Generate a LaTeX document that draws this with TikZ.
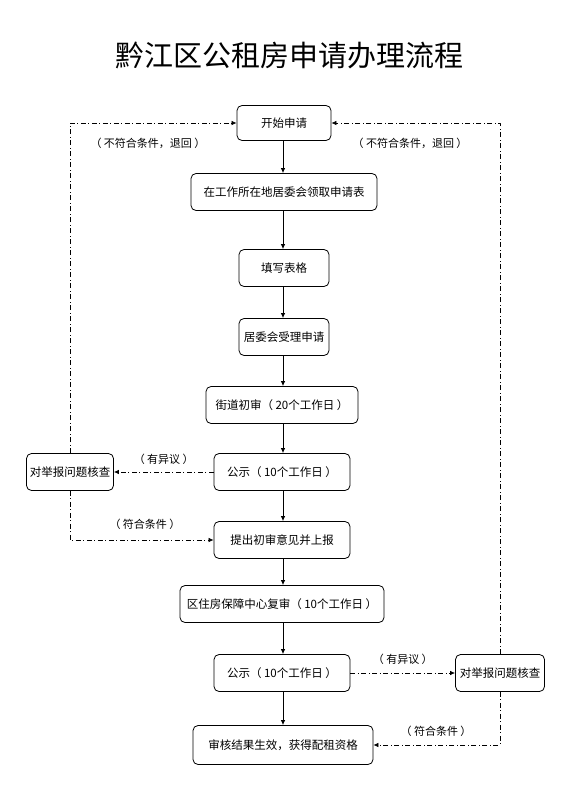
\documentclass[tikz,border=0pt]{standalone}
\usepackage{fontspec}
\newfontfamily\cjk{Noto Sans CJK SC}
\usetikzlibrary{arrows.meta}
\newcommand{\mo}{（\hspace{2.5pt}}
\newcommand{\dong}{\hspace{2.5pt}）}
\begin{document}
\begin{tikzpicture}[x=1pt,y=-1pt,font=\cjk\fontsize{11.5}{13}\selectfont, line join=round, >={Latex[length=5pt,width=4.5pt]},
	hop/.style={draw,rounded corners=5pt,minimum height=37pt,inner xsep=4pt,line width=0.8pt},
	tra/.style={->,line width=0.8pt},
	lui/.style={->,dash pattern=on 5pt off 2.5pt on 1pt off 2.5pt,line width=0.7pt},
	nhan/.style={font=\cjk\fontsize{11}{12}\selectfont}]
	%%Khung hình
	\useasboundingbox (0,0) rectangle (565,800);
	\node (tieude) at (289,55) {\fontsize{29}{32}\selectfont 黔江区公租房申请办理流程};
	%%Các bước chính
	\node[hop,minimum width=94pt,minimum height=35pt] (batdau) at (284,123) {开始申请};
	\node[hop,minimum width=186pt] (lanhbieu) at (284,192) {在工作所在地居委会领取申请表};
	\node[hop,minimum width=90pt] (dienbieu) at (284,268) {填写表格};
	\node[hop,minimum width=90pt] (thuly) at (284,337) {居委会受理申请};
	\node[hop,minimum width=152pt] (sothe) at (282,405) {街道初审\mo 20个工作日\dong};
	\node[hop,minimum width=136pt] (congbo) at (282,472) {公示\mo 10个工作日\dong};
	\node[hop,minimum width=136pt] (baocao) at (282,540) {提出初审意见并上报};
	\node[hop,minimum width=204pt] (phuc) at (282,604) {区住房保障中心复审\mo 10个工作日\dong};
	\node[hop,minimum width=136pt] (congbohai) at (282,673) {公示\mo 10个工作日\dong};
	\node[hop,minimum width=180pt,minimum height=39pt] (ketqua) at (283,745) {审核结果生效，获得配租资格};
	%%Hai ô kiểm tra
	\node[hop,minimum width=87pt,inner xsep=1pt] (kiemtra) at (70,472) {对举报问题核查};
	\node[hop,minimum width=89pt,inner xsep=1pt] (kiemtrahai) at (500,673) {对举报问题核查};
	%%Mũi tên chính
	\foreach \a/\b in {batdau/lanhbieu,lanhbieu/dienbieu,dienbieu/thuly,thuly/sothe,sothe/congbo,congbo/baocao,baocao/phuc,phuc/congbohai,congbohai/ketqua}
		\draw[tra] (\a.south -| 283,0) -- (\b.north -| 283,0);
	%%Nhánh trái
	\draw[lui] (congbo) -- (kiemtra) node[nhan,midway,above=4pt] {\mo 有异议\dong};
	\draw[lui] (kiemtra.north) |- (batdau.west);
	\draw[lui] (kiemtra.south) |- (baocao.west);
	\node[nhan] (khongtrai) at (148,143) {\mo 不符合条件，退回\dong};
	\node[nhan] (duoctrai) at (145,524) {\mo 符合条件\dong};
	%%Nhánh phải
	\draw[lui] (congbohai) -- (kiemtrahai) node[nhan,midway,above=5pt] {\mo 有异议\dong};
	\draw[lui] (kiemtrahai.north) |- (batdau.east);
	\draw[lui] (kiemtrahai.south) |- (ketqua.east);
	\node[nhan] (khongphai) at (410,143) {\mo 不符合条件，退回\dong};
	\node[nhan] (duocphai) at (436,731) {\mo 符合条件\dong};
\end{tikzpicture}
\end{document}
